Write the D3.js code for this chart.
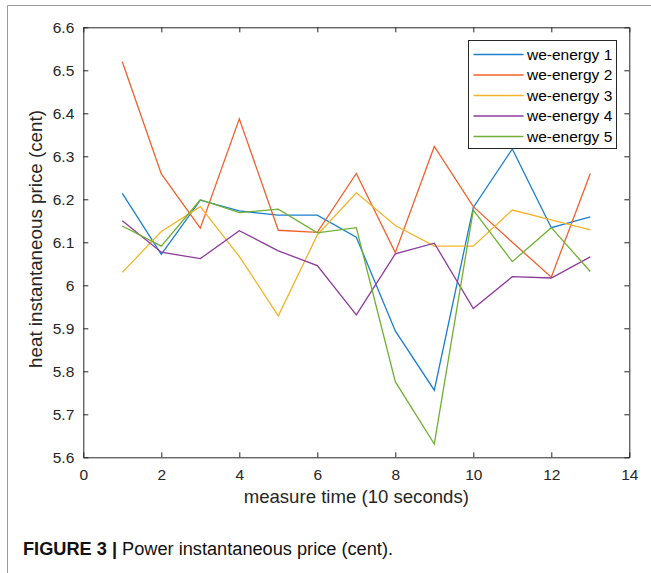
<!DOCTYPE html>
<html>
<head>
<meta charset="utf-8">
<script src="https://cdn.jsdelivr.net/npm/d3@7"></script>
<style>
  html, body { margin: 0; padding: 0; background: #fff; }
  svg { display: block; }
</style>
</head>
<body>
<script>
// measure times (x axis)
const times = [1, 2, 3, 4, 5, 6, 7, 8, 9, 10, 11, 12, 13];

// heat instantaneous price per we-energy unit
const energy1 = [6.214, 6.072, 6.198, 6.173, 6.163, 6.163, 6.112, 5.894, 5.756, 6.181, 6.317, 6.134, 6.159];
const energy2 = [6.520, 6.259, 6.133, 6.387, 6.128, 6.123, 6.260, 6.076, 6.323, 6.183, 6.100, 6.019, 6.260];
const energy3 = [6.030, 6.125, 6.183, 6.067, 5.929, 6.117, 6.215, 6.139, 6.091, 6.091, 6.175, 6.152, 6.129];
const energy4 = [6.150, 6.077, 6.062, 6.127, 6.080, 6.046, 5.931, 6.073, 6.098, 5.946, 6.020, 6.017, 6.066];
const energy5 = [6.138, 6.091, 6.199, 6.169, 6.177, 6.122, 6.134, 5.776, 5.631, 6.175, 6.055, 6.134, 6.032];

const seriesNames = ['we-energy 1', 'we-energy 2', 'we-energy 3', 'we-energy 4', 'we-energy 5'];
const seriesColors = ['#1a7fcf', '#f2602a', '#f5b428', '#8e3a9c', '#6fb033'];

const xTicks = [0, 2, 4, 6, 8, 10, 12, 14];
const yTicks = [5.6, 5.7, 5.8, 5.9, 6.0, 6.1, 6.2, 6.3, 6.4, 6.5, 6.6];

const width = 651;
const height = 573;
const plot = { left: 83.3, right: 629.3, top: 27.3, bottom: 457.3 };
const axisColor = '#262626';
const font = 'Helvetica, Arial, "Liberation Sans", sans-serif';

const svg = d3.select('body')
  .append('svg')
  .attr('width', width)
  .attr('height', height);

// figure frame (top and left edges only)
svg.append('path')
  .attr('d', 'M7.5,' + height + 'V5.5H' + width)
  .attr('fill', 'none')
  .attr('stroke', '#9a9a9a')
  .attr('stroke-width', 1);

const x = d3.scaleLinear().domain([0, 14]).range([plot.left, plot.right]);
const y = d3.scaleLinear().domain([5.6, 6.6]).range([plot.bottom, plot.top]);

// axes: labelled bottom/left, mirrored ticks top/right, all ticks inward
const fmtY = d => (Math.abs(d - 6) < 1e-9 ? '6' : d3.format('.1f')(d));

const gx = svg.append('g')
  .attr('transform', `translate(0,${plot.bottom})`)
  .call(d3.axisBottom(x).tickValues(xTicks).tickSizeInner(-5).tickSizeOuter(0).tickPadding(12));

const gy = svg.append('g')
  .attr('transform', `translate(${plot.left},0)`)
  .call(d3.axisLeft(y).tickValues(yTicks).tickFormat(fmtY).tickSizeInner(-5).tickSizeOuter(0).tickPadding(9));

const gxTop = svg.append('g')
  .attr('transform', `translate(0,${plot.top})`)
  .call(d3.axisTop(x).tickValues(xTicks).tickSizeInner(-5).tickSizeOuter(0).tickFormat(''));

const gyRight = svg.append('g')
  .attr('transform', `translate(${plot.right},0)`)
  .call(d3.axisRight(y).tickValues(yTicks).tickSizeInner(-5).tickSizeOuter(0).tickFormat(''));

[gx, gy, gxTop, gyRight].forEach(g => {
  g.selectAll('path, line').attr('stroke', axisColor).attr('stroke-width', 1);
  g.selectAll('text')
    .attr('fill', axisColor)
    .style('font-family', font)
    .style('font-size', '15.5px');
});

// lines
const series = [energy1, energy2, energy3, energy4, energy5];
const line = d3.line()
  .x((d, i) => x(times[i]))
  .y(d => y(d));

svg.append('g')
  .selectAll('path')
  .data(series)
  .enter()
  .append('path')
  .attr('d', d => line(d))
  .attr('fill', 'none')
  .attr('stroke', (d, i) => seriesColors[i])
  .attr('stroke-width', 1.3)
  .attr('stroke-linejoin', 'miter');

// legend
const legend = svg.append('g').attr('transform', 'translate(468.5,40.5)');
legend.append('rect')
  .attr('width', 148)
  .attr('height', 108)
  .attr('fill', '#fff')
  .attr('stroke', axisColor)
  .attr('stroke-width', 1);

const rows = legend.selectAll('.row')
  .data(seriesNames)
  .enter()
  .append('g')
  .attr('transform', (d, i) => `translate(0,${14 + i * 20.5})`);

rows.append('line')
  .attr('x1', 5)
  .attr('x2', 55)
  .attr('stroke', (d, i) => seriesColors[i])
  .attr('stroke-width', 1.3);

rows.append('text')
  .attr('x', 58.5)
  .attr('dy', '0.35em')
  .attr('fill', '#000')
  .style('font-family', font)
  .style('font-size', '15.5px')
  .text(d => d);

// axis titles
svg.append('text')
  .attr('x', (plot.left + plot.right) / 2)
  .attr('y', 503)
  .attr('text-anchor', 'middle')
  .attr('fill', axisColor)
  .style('font-family', font)
  .style('font-size', '18.6px')
  .text('measure time (10 seconds)');

svg.append('text')
  .attr('transform', 'translate(42,239) rotate(-90)')
  .attr('text-anchor', 'middle')
  .attr('fill', axisColor)
  .style('font-family', font)
  .style('font-size', '18.8px')
  .text('heat instantaneous price (cent)');

// caption
const caption = svg.append('text')
  .attr('x', 23)
  .attr('y', 555)
  .attr('fill', '#111')
  .attr('textLength', 370)
  .attr('lengthAdjust', 'spacingAndGlyphs')
  .style('font-family', '"Liberation Sans Narrow", "Arial Narrow", Arial, sans-serif')
  .style('font-size', '18px');
caption.append('tspan').attr('font-weight', 'bold').text('FIGURE 3 | ');
caption.append('tspan').text('Power instantaneous price (cent).');
</script>
</body>
</html>
